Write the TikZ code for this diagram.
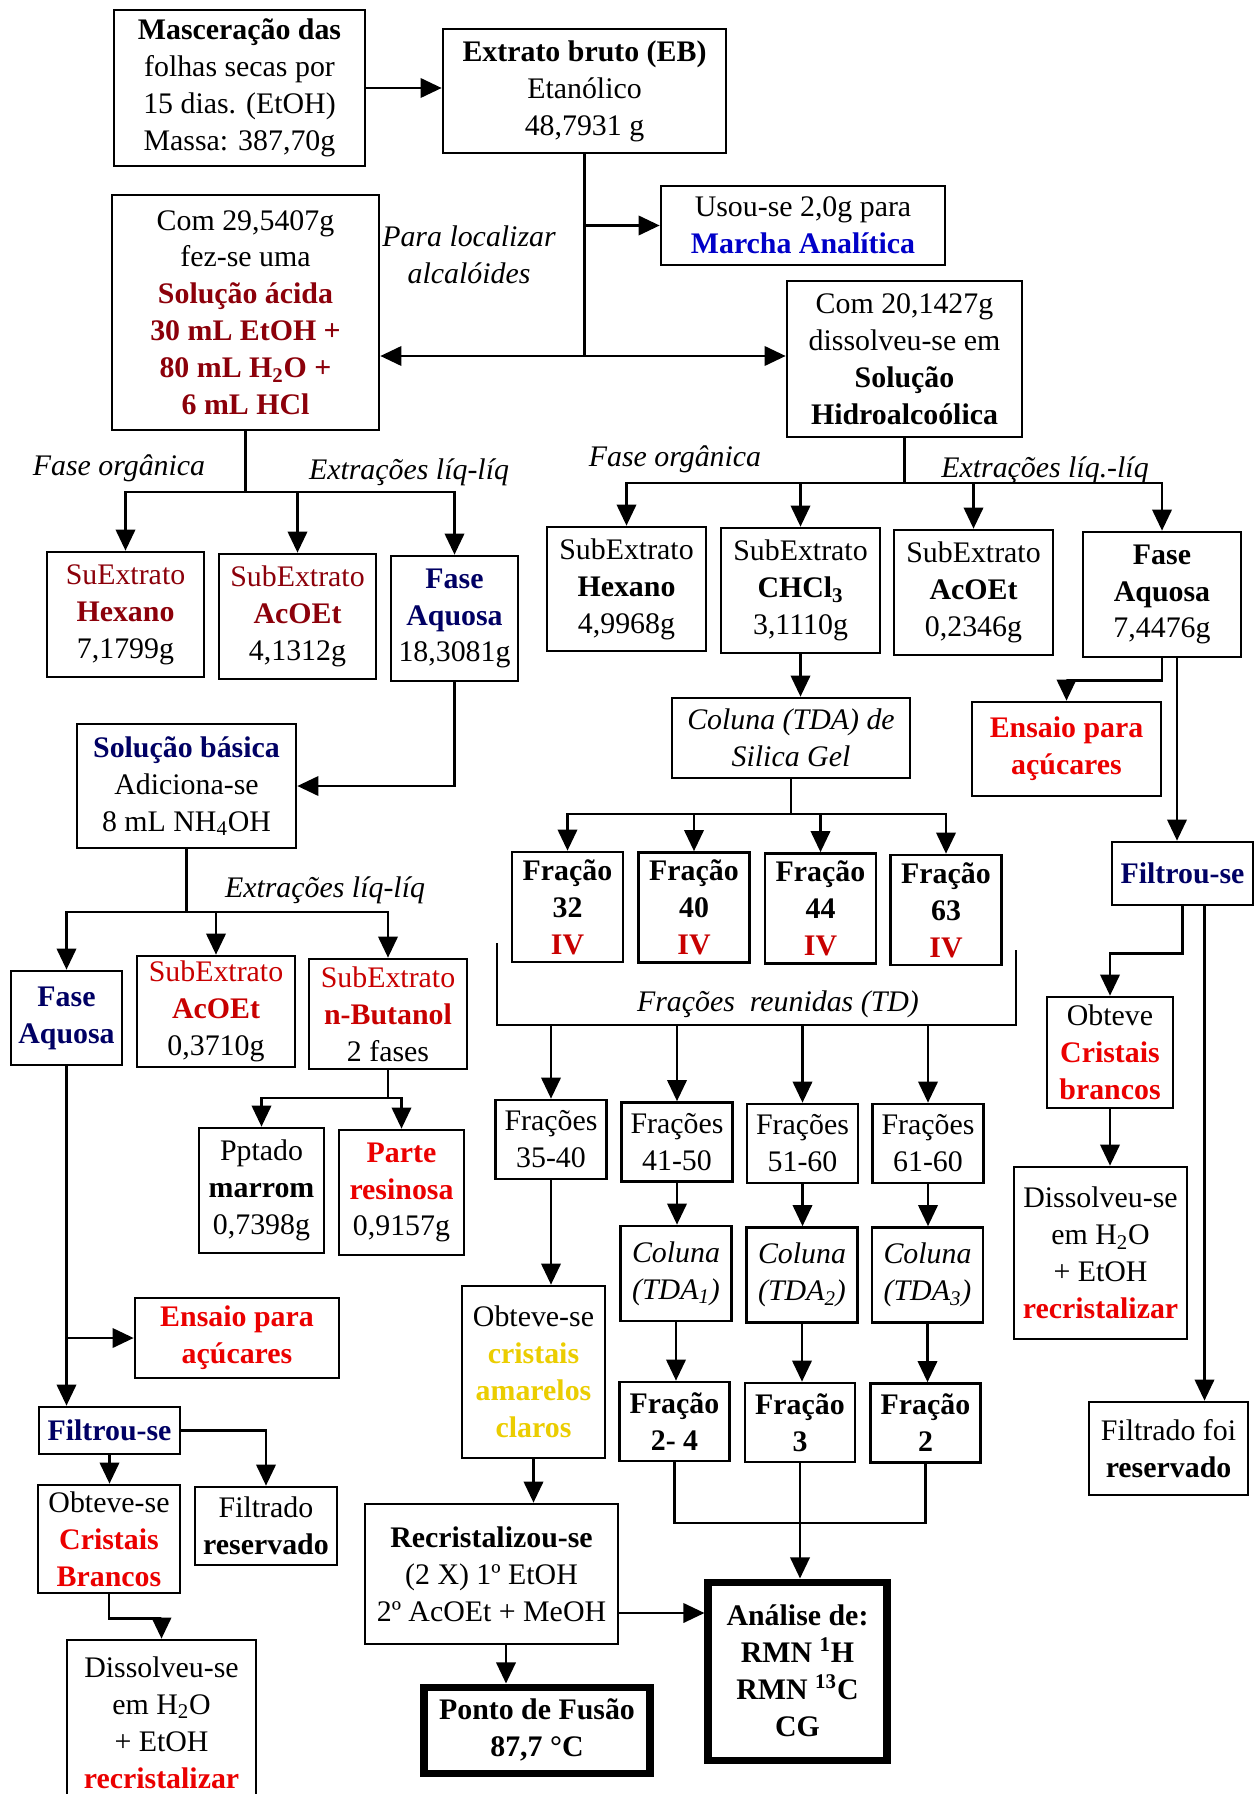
\documentclass[tikz,border=0pt]{standalone}
\usepackage{fontspec}
\setmainfont{Liberation Serif}
\usetikzlibrary{arrows.meta,positioning,calc}
\definecolor{dred}{RGB}{140,0,10}
\definecolor{mred}{RGB}{200,0,0}
\definecolor{bred}{RGB}{235,0,0}
\definecolor{navy}{RGB}{0,0,100}
\definecolor{mblue}{RGB}{0,0,200}
\definecolor{yel}{RGB}{235,205,0}
\newcommand{\colb}[2]{\textcolor{#1}{\textbf{#2}}}

\begin{document}
\begin{tikzpicture}[x=0.02cm,y=-0.02cm,
    box/.style={draw,line width=1.5pt,align=center,inner xsep=2pt,inner ysep=0pt,font=\fontsize{17}{21}\selectfont},
    itbox/.style={box,font=\fontsize{17}{21}\selectfont\itshape},
    heavybox/.style={box,line width=4pt},
    sz/.style 2 args={minimum width=#1*0.02cm,minimum height=#2*0.02cm},
    lbl/.style={align=center,inner sep=0pt,font=\fontsize{17}{21}\selectfont\itshape},
    ln/.style={line width=1.5pt},
    arr/.style={ln,-{Triangle[width=11pt,length=12pt]}}]
    \useasboundingbox (0,0) rectangle (1256,1794);
    \clip (0,0) rectangle (1256,1794);
    \fill[white] (0,0) rectangle (1256,1794);

    \node[box,sz={251}{156}] (masc)  at (239.5,88)  {\textbf{Masceração das}\\folhas secas por\\15 dias. (EtOH)\\Massa: 387,70g};
    \node[box,sz={283}{124}] (eb)    at (584.5,91)  {\textbf{Extrato bruto (EB)}\\Etanólico\\48,7931 g};
    \node[box,sz={284}{79}]  (usou)  at (803,225.5) {Usou-se 2,0g para\\\colb{mblue}{Marcha Analítica}};
    \node[box,sz={267}{235}] (com29) at (245.5,312.5) {Com 29,5407g\\fez-se uma\\\colb{dred}{Solução ácida}\\\colb{dred}{30 mL EtOH +}\\\colb{dred}{80 mL H\textsubscript{2}O +}\\\colb{dred}{6 mL HCl}};
    \node[box,sz={235}{156}] (com20) at (904.5,359) {Com 20,1427g\\dissolveu-se em\\\textbf{Solução}\\\textbf{Hidroalcoólica}};
    \node[lbl] (para) at (469,255) {Para localizar\\alcalóides};

    \node[box,sz={157}{125}] (hexA) at (125.5,614.5) {\textcolor{dred}{SuExtrato}\\\colb{dred}{Hexano}\\7,1799g};
    \node[box,sz={157}{125}] (acoA) at (297.5,616.5) {\textcolor{dred}{SubExtrato}\\\colb{dred}{AcOEt}\\4,1312g};
    \node[box,sz={127}{125}] (aqA)  at (454.5,618.5) {\colb{navy}{Fase}\\\colb{navy}{Aquosa}\\18,3081g};
    \node[lbl] (orgA) at (119,468) {Fase orgânica};
    \node[lbl] (extA) at (409,472) {Extrações líq-líq};

    \node[box,sz={159}{124}] (hexC) at (626.5,589)  {SubExtrato\\\textbf{Hexano}\\4,9968g};
    \node[box,sz={159}{125}] (chcl) at (800.5,590.5) {SubExtrato\\\textbf{CHCl\textsubscript{3}}\\3,1110g};
    \node[box,sz={159}{125}] (acoC) at (973.5,592.5) {SubExtrato\\\textbf{AcOEt}\\0,2346g};
    \node[box,sz={158}{125}] (aqC)  at (1162,594.5)  {\textbf{Fase}\\\textbf{Aquosa}\\7,4476g};
    \node[lbl] (orgC) at (675,459)  {Fase orgânica};
    \node[lbl] (extC) at (1045,470) {Extrações líq.-líq};

    \node[itbox,sz={238}{80}] (coluna) at (791,738) {Coluna (TDA) de\\Silica Gel};
    \node[box,sz={189}{94}]  (ensC)  at (1066.5,749)  {\colb{bred}{Ensaio para}\\\colb{bred}{açúcares}};
    \node[box,sz={141}{63}]  (filtC) at (1182.5,873.5) {\colb{navy}{Filtrou-se}};

    \foreach \n/\x/\y in {32/567.5/907,40/694/907.5,44/820.5/908.5,63/946/910}
        \node[box,sz={111}{110}] (f\n) at (\x,\y) {\textbf{Fração}\\\textbf{\n}\\\colb{mred}{IV}};
    \node[lbl] (reun) at (778,1004) {Frações\ \ reunidas (TD)};

    \node[box,sz={126}{111}] (cristC)    at (1110,1052.5)  {Obteve\\\colb{bred}{Cristais}\\\colb{bred}{brancos}};
    \node[box,sz={173}{172}] (dissC)     at (1100.5,1253)  {Dissolveu-se\\em H\textsubscript{2}O\\+ EtOH\\\colb{bred}{recristalizar}};
    \node[box,sz={159}{93}]  (filtradoC) at (1168.5,1448.5) {Filtrado foi\\\textbf{reservado}};

    \node[box,sz={111}{79}] (fr3540) at (551,1139.5)   {Frações\\35-40};
    \node[box,sz={111}{79}] (fr4150) at (677,1142)     {Frações\\41-50};
    \node[box,sz={111}{79}] (fr5160) at (802.5,1143.5) {Frações\\51-60};
    \node[box,sz={111}{79}] (fr6160) at (928,1143.5)   {Frações\\61-60};

    \node[itbox,sz={111}{95}] (tda1) at (676,1273.5) {Coluna\\(TDA\textsubscript{1})};
    \node[itbox,sz={111}{95}] (tda2) at (802,1275)   {Coluna\\(TDA\textsubscript{2})};
    \node[itbox,sz={111}{95}] (tda3) at (927.5,1275) {Coluna\\(TDA\textsubscript{3})};

    \node[box,sz={110}{79}] (fr24) at (674.5,1421.5) {\textbf{Fração}\\\textbf{2- 4}};
    \node[box,sz={110}{79}] (fr3)  at (800,1422.5)   {\textbf{Fração}\\\textbf{3}};
    \node[box,sz={110}{79}] (fr2)  at (925.5,1423)   {\textbf{Fração}\\\textbf{2}};

    \node[box,sz={143}{172}] (amarelos) at (533.5,1372) {Obteve-se\\\colb{yel}{cristais}\\\colb{yel}{amarelos}\\\colb{yel}{claros}};
    \node[box,sz={253}{140}] (recrist)  at (491.5,1574) {\textbf{Recristalizou-se}\\(2 X) 1º EtOH\\2º AcOEt + MeOH};
    \node[heavybox,sz={226}{86}]  (ponto)   at (537,1730)   {\textbf{Ponto de Fusão}\\\textbf{87,7 °C}};
    \node[heavybox,sz={179}{178}] (analise) at (797.5,1671) {\textbf{Análise de:}\\\textbf{RMN \textsuperscript{1}H}\\\textbf{RMN \textsuperscript{13}C}\\\textbf{CG}};

    \node[box,sz={219}{124}] (basica) at (186.5,786) {\colb{navy}{Solução básica}\\Adiciona-se\\8 mL NH\textsubscript{4}OH};
    \node[lbl] (extB) at (325,890) {Extrações líq-líq};
    \node[box,sz={111}{94}]  (aqB)    at (66.5,1018)   {\colb{navy}{Fase}\\\colb{navy}{Aquosa}};
    \node[box,sz={158}{111}] (acoB)   at (216,1011.5)  {\textcolor{mred}{SubExtrato}\\\colb{mred}{AcOEt}\\0,3710g};
    \node[box,sz={158}{110}] (butB)   at (388,1014)    {\textcolor{mred}{SubExtrato}\\\colb{mred}{n-Butanol}\\2 fases};
    \node[box,sz={125}{125}] (pptado) at (261.5,1190.5) {Pptado\\\textbf{marrom}\\0,7398g};
    \node[box,sz={125}{125}] (resina) at (401.5,1192.5) {\colb{bred}{Parte}\\\colb{bred}{resinosa}\\0,9157g};
    \node[box,sz={204}{80}]  (ensB)   at (237,1338)    {\colb{bred}{Ensaio para}\\\colb{bred}{açúcares}};
    \node[box,sz={141}{47}]  (filtB)  at (109.5,1430.5) {\colb{navy}{Filtrou-se}};
    \node[box,sz={142}{108}] (cristB) at (109,1539)    {Obteve-se\\\colb{bred}{Cristais}\\\colb{bred}{Brancos}};
    \node[box,sz={142}{78}]  (filtradoB) at (266,1526) {Filtrado\\\textbf{reservado}};
    \node[box,sz={189}{165}] (dissB)  at (161.5,1722.5) {Dissolveu-se\\em H\textsubscript{2}O\\+ EtOH\\\colb{bred}{recristalizar}};

    \draw[arr] (masc.east) -- (masc.east -| eb.west);
    \coordinate (j1) at (584.5,356);
    \draw[ln] (eb.south) -- (j1);
    \draw[arr] (eb.south |- usou.west) -- (usou.west);
    \draw[arr] (j1) -- (j1 -| com29.east);
    \draw[arr] (j1) -- (j1 -| com20.west);

    \coordinate (j2) at (245.5,492);
    \draw[ln] (com29.south) -- (j2);
    \foreach \n in {hexA,acoA,aqA} \draw[arr] (j2) -| (\n.north);
    \draw[arr] (aqA.south) |- (basica.east);

    \coordinate (j3) at (904.5,483);
    \draw[ln] (com20.south) -- (j3);
    \foreach \n in {hexC,chcl,acoC,aqC} \draw[arr] (j3) -| (\n.north);
    \draw[arr] (chcl.south) -- (chcl.south |- coluna.north);
    \coordinate (j4) at (791,814);
    \draw[ln] (coluna.south) -- (j4);
    \foreach \n in {f32,f40,f44,f63} \draw[arr] (j4) -| (\n.north);

    \coordinate (ra) at (497,943);
    \coordinate (rb) at (1016,950);
    \coordinate (j5) at (551,1025);
    \draw[ln] (ra) |- (j5) -| (rb);
    \foreach \n in {fr3540,fr4150,fr5160,fr6160} \draw[arr] (j5 -| \n.north) -- (\n.north);
    \foreach \a/\b in {fr4150/tda1,fr5160/tda2,fr6160/tda3,tda1/fr24,tda2/fr3,tda3/fr2}
        \draw[arr] (\a.south) -- (\a.south |- \b.north);
    \coordinate (j6) at (800,1523);
    \draw[ln] (fr24.south) |- (j6) -| (fr2.south);
    \draw[arr] (fr3.south) -- (fr3.south |- analise.north);

    \draw[arr] (fr3540.south) -- (fr3540.south |- amarelos.north);
    \draw[arr] (amarelos.south) -- (amarelos.south |- recrist.north);
    \draw[arr] ([yshift=-0.78cm]recrist.east) -- ([yshift=-0.78cm]recrist.east -| analise.west);
    \draw[arr] ([xshift=0.29cm]recrist.south) -- ([xshift=0.29cm]recrist.south |- ponto.north);

    \draw[arr] (aqC.south) -- ++(0,22) -| (ensC.north);
    \draw[arr] ([xshift=0.3cm]aqC.south) -- ([xshift=0.3cm]aqC.south |- filtC.north);
    \draw[arr] (filtC.south) -- ++(0,47) -| (cristC.north);
    \draw[arr] ([xshift=0.44cm]filtC.south) -- ([xshift=0.44cm]filtC.south |- filtradoC.north);
    \draw[arr] (cristC.south) -- (cristC.south |- dissC.north);

    \coordinate (j7) at (186.5,912);
    \draw[ln] (basica.south) -- (j7);
    \foreach \n in {aqB,acoB,butB} \draw[arr] (j7) -| (\n.north);
    \coordinate (j8) at (388,1098);
    \draw[ln] (butB.south) -- (j8);
    \foreach \n in {pptado,resina} \draw[arr] (j8) -| (\n.north);
    \coordinate (j9) at (66.5,1338);
    \draw[ln] (aqB.south) -- (j9);
    \draw[arr] (j9) -- (ensB.west);
    \draw[arr] (j9) -- (j9 |- filtB.north);
    \draw[arr] (filtB.south) -- (filtB.south |- cristB.north);
    \draw[arr] (filtB.east) -| (filtradoB.north);
    \draw[arr] (cristB.south) -- ++(0,24) -| (dissB.north);
\end{tikzpicture}
\end{document}
